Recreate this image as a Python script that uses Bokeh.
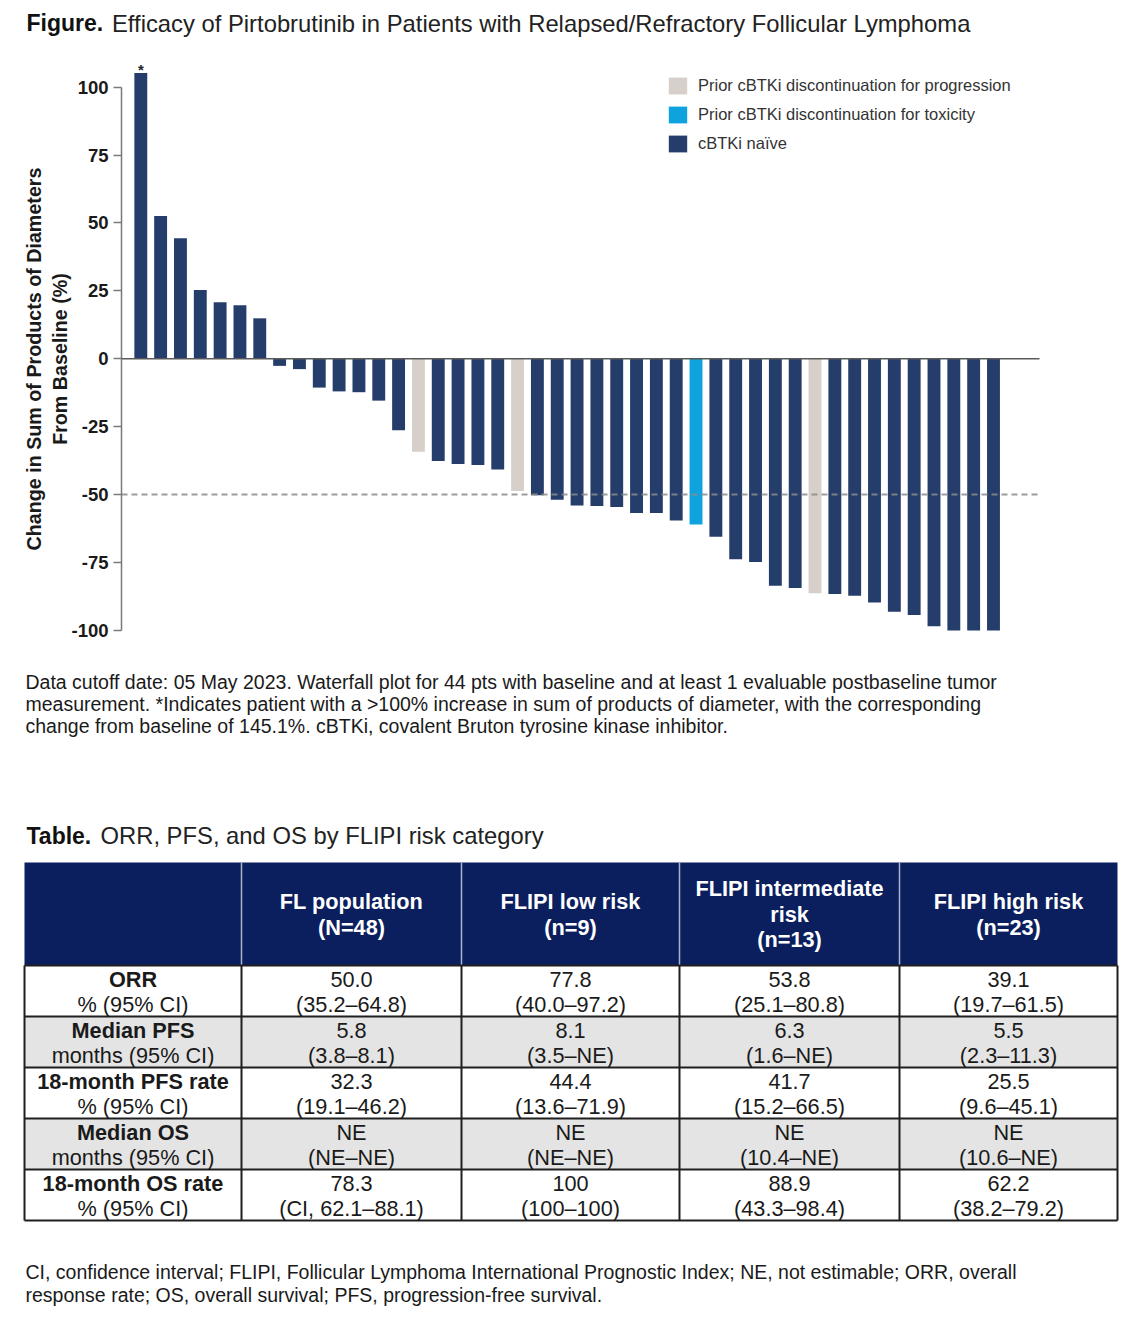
from bokeh.plotting import figure
from bokeh.models import (Range1d, Legend, LegendItem, FixedTicker, LinearAxis,
                          CustomJSTickFormatter)
from bokeh.embed import file_html
from bokeh.resources import INLINE
from bokeh.core.properties import value

# ---------------- data ----------------
patient = list(range(1, 45))
change = [105.2, 52.6, 44.4, 25.3, 20.8, 19.7, 14.9, -2.6, -3.8, -10.6,
          -12.0, -12.3, -15.4, -26.3, -34.2, -37.6, -38.7, -39.1, -40.8, -48.7,
          -50.2, -51.9, -54.0, -54.2, -54.6, -56.8, -56.8, -59.5, -61.0, -65.5,
          -73.8, -74.8, -83.6, -84.4, -86.3, -86.6, -87.2, -89.7, -93.1, -94.3,
          -98.5, -100.0, -100.0, -100.0]
group = ["naive"] * 44
group[14] = "prog"
group[19] = "prog"
group[34] = "prog"
group[28] = "tox"

groups = ["prog", "tox", "naive"]
group_labels = ["Prior cBTKi discontinuation for progression",
                "Prior cBTKi discontinuation for toxicity",
                "cBTKi naïve"]
group_colors = ["#d6cfca", "#0ea3df", "#243d6b"]

y_ticks = [-100, -75, -50, -25, 0, 25, 50, 75, 100]
ref_lines = [0, -50]

fig_title_bold = "Figure."
fig_title_rest = "Efficacy of Pirtobrutinib in Patients with Relapsed/Refractory Follicular Lymphoma"
y_label = "Change in Sum of Products of Diameters\nFrom Baseline (%)"
chart_note = ["Data cutoff date: 05 May 2023. Waterfall plot for 44 pts with baseline and at least 1 evaluable postbaseline tumor",
              "measurement. *Indicates patient with a >100% increase in sum of products of diameter, with the corresponding",
              "change from baseline of 145.1%. cBTKi, covalent Bruton tyrosine kinase inhibitor."]

table_title_bold = "Table."
table_title_rest = "ORR, PFS, and OS by FLIPI risk category"
col_headers = [[],
               ["FL population", "(N=48)"],
               ["FLIPI low risk", "(n=9)"],
               ["FLIPI intermediate", "risk", "(n=13)"],
               ["FLIPI high risk", "(n=23)"]]
row_labels = ["ORR", "Median PFS", "18-month PFS rate", "Median OS", "18-month OS rate"]
row_units = ["% (95% CI)", "months (95% CI)", "% (95% CI)", "months (95% CI)", "% (95% CI)"]
est_fl = ["50.0", "5.8", "32.3", "NE", "78.3"]
ci_fl = ["(35.2–64.8)", "(3.8–8.1)", "(19.1–46.2)", "(NE–NE)", "(CI, 62.1–88.1)"]
est_low = ["77.8", "8.1", "44.4", "NE", "100"]
ci_low = ["(40.0–97.2)", "(3.5–NE)", "(13.6–71.9)", "(NE–NE)", "(100–100)"]
est_int = ["53.8", "6.3", "41.7", "NE", "88.9"]
ci_int = ["(25.1–80.8)", "(1.6–NE)", "(15.2–66.5)", "(10.4–NE)", "(43.3–98.4)"]
est_high = ["39.1", "5.5", "25.5", "NE", "62.2"]
ci_high = ["(19.7–61.5)", "(2.3–11.3)", "(9.6–45.1)", "(10.6–NE)", "(38.2–79.2)"]
table_note = ["CI, confidence interval; FLIPI, Follicular Lymphoma International Prognostic Index; NE, not estimable; ORR, overall",
              "response rate; OS, overall survival; PFS, progression-free survival."]

FONT = value("Liberation Sans")
TXT = "#1a1a1a"
W, H = 1120, 1316

# page figure: default ranges are page pixels; the chart uses its own scales
p = figure(width=W, height=H, x_range=Range1d(0, W), y_range=Range1d(H, 0),
           output_backend="svg", toolbar_location=None, min_border=0,
           x_axis_location=None, y_axis_location=None)
p.outline_line_color = None
p.grid.visible = False

# chart scales: patient index -> x, % change -> y
x_lo, x_hi = 0.027, 46.32
p.extra_x_ranges = {"pt": Range1d(-6.075, 50.405)}
p.extra_y_ranges = {"pct": Range1d(-352.61, 131.92)}

# ---------------- title ----------------
p.text(x=[26], y=[22.5], text=[fig_title_bold], text_font=FONT, text_font_size="23px",
       text_font_style="bold", text_color="#111111", text_baseline="middle")
p.text(x=[111.5], y=[22.5], text=[fig_title_rest], text_font=FONT, text_font_size="23.8px",
       text_color="#222222", text_baseline="middle")

# ---------------- waterfall ----------------
items = []
for g, lab, col in zip(groups, group_labels, group_colors):
    xs = [x for x, gg in zip(patient, group) if gg == g]
    ys = [y for y, gg in zip(change, group) if gg == g]
    r = p.vbar(x=xs, top=ys, bottom=0, width=0.65, fill_color=col, line_color=None,
               x_range_name="pt", y_range_name="pct")
    items.append(LegendItem(label=lab, renderers=[r]))

p.segment(x0=[x_lo], x1=[x_hi], y0=[ref_lines[0]], y1=[ref_lines[0]], line_color="#5a5a5a",
          line_width=1.5, x_range_name="pt", y_range_name="pct")
p.segment(x0=[x_lo], x1=[x_hi], y0=[ref_lines[1]], y1=[ref_lines[1]], line_color="#8c8c8c",
          line_width=2, line_dash="6 4", line_alpha=0.85, x_range_name="pt", y_range_name="pct")

p.text(x=[patient[0]], y=[change[0]], text=["*"], text_font=FONT, text_font_size="15px",
       text_font_style="bold", text_color="#222222", text_align="center",
       text_baseline="middle", y_offset=-4, x_range_name="pt", y_range_name="pct")

ax = LinearAxis(x_range_name="pt", y_range_name="pct", fixed_location=x_lo)
ax.ticker = FixedTicker(ticks=y_ticks)
ax.formatter = CustomJSTickFormatter(code="return tick.toFixed(0);")
ax.bounds = (-100, 100)
ax.major_tick_out = 8
ax.major_tick_in = 0
ax.minor_tick_line_color = None
ax.axis_line_color = "#7a7a7a"
ax.axis_line_width = 1.5
ax.major_tick_line_color = "#7a7a7a"
ax.major_tick_line_width = 1.5
ax.major_label_standoff = 5
ax.major_label_text_font = "Liberation Sans"
ax.major_label_text_font_size = "18.5px"
ax.major_label_text_font_style = "bold"
ax.major_label_text_color = TXT
ax.axis_label = y_label
ax.axis_label_text_font = "Liberation Sans"
ax.axis_label_text_font_size = "19.7px"
ax.axis_label_text_font_style = "bold"
ax.axis_label_text_color = TXT
ax.axis_label_standoff = -3
p.add_layout(ax, "left")

legend = Legend(items=items, location=(666, 1162.5), padding=0, spacing=8, margin=0,
                glyph_width=23, glyph_height=21, label_height=21, label_standoff=9,
                label_text_font="Liberation Sans", label_text_font_size="16.5px",
                label_text_color="#333333", border_line_color=None,
                background_fill_alpha=0)
p.add_layout(legend)

# ---------------- notes ----------------
p.text(x=[25] * 3, y=[681, 703, 725], text=chart_note, text_font=FONT,
       text_font_size="19.5px", text_color=TXT, text_baseline="middle")

p.text(x=[26], y=[835], text=[table_title_bold], text_font=FONT, text_font_size="23px",
       text_font_style="bold", text_color="#111111", text_baseline="middle")
p.text(x=[100], y=[835], text=[table_title_rest], text_font=FONT, text_font_size="23.8px",
       text_color="#222222", text_baseline="middle")

# ---------------- table ----------------
xe = [24, 241, 461, 679, 899, 1117]
ye = [862, 965, 1016, 1067, 1118, 1169, 1220]
rh = 51
row_fill = ["#ffffff", "#e4e4e4", "#ffffff", "#e4e4e4", "#ffffff"]

p.quad(left=[xe[0]], right=[xe[-1]], top=[ye[0]], bottom=[ye[1]], fill_color="#0b1f5e", line_color=None)
p.segment(x0=xe[1:-1], y0=[ye[0]] * 4, x1=xe[1:-1], y1=[ye[1]] * 4, line_color="#aab4cc", line_width=1.5)
p.quad(left=[xe[0]] * 5, right=[xe[-1]] * 5, top=ye[1:-1], bottom=ye[2:], fill_color=row_fill, line_color=None)
p.segment(x0=[xe[0]] * 6, y0=ye[1:], x1=[xe[-1]] * 6, y1=ye[1:], line_color="#1f1f1f", line_width=2)
p.segment(x0=xe, y0=[ye[1]] * 6, x1=xe, y1=[ye[-1]] * 6, line_color="#1f1f1f", line_width=2)

cx = [(xe[i] + xe[i + 1]) / 2 for i in range(5)]
hx, hy, ht = [], [], []
for i, lines in enumerate(col_headers):
    n = len(lines)
    mid = (ye[0] + ye[1]) / 2
    step = 26 if n < 3 else 25.5
    for k, s in enumerate(lines):
        hx.append(cx[i])
        hy.append(mid + (k - (n - 1) / 2) * step)
        ht.append(s)
TS = "21.7px"
p.text(x=hx, y=hy, text=ht, text_font=FONT, text_font_size=TS, text_font_style="bold",
       text_color="#ffffff", text_align="center", text_baseline="middle")

l1 = [ye[1] + rh * i + 14 for i in range(5)]
l2 = [ye[1] + rh * i + 39 for i in range(5)]
p.text(x=[cx[0]] * 5, y=l1, text=row_labels, text_font=FONT, text_font_size=TS,
       text_font_style="bold", text_color=TXT, text_align="center", text_baseline="middle")
p.text(x=[cx[0]] * 5, y=l2, text=row_units, text_font=FONT, text_font_size=TS,
       text_color=TXT, text_align="center", text_baseline="middle")
for j, (est, ci) in enumerate([(est_fl, ci_fl), (est_low, ci_low), (est_int, ci_int), (est_high, ci_high)]):
    p.text(x=[cx[j + 1]] * 5, y=l1, text=est, text_font=FONT, text_font_size=TS,
           text_color=TXT, text_align="center", text_baseline="middle")
    p.text(x=[cx[j + 1]] * 5, y=l2, text=ci, text_font=FONT, text_font_size=TS,
           text_color=TXT, text_align="center", text_baseline="middle")

p.text(x=[25, 25], y=[1271, 1294], text=table_note, text_font=FONT, text_font_size="19.5px",
       text_color=TXT, text_baseline="middle")

open("out.html", "w").write(file_html(p, INLINE))
